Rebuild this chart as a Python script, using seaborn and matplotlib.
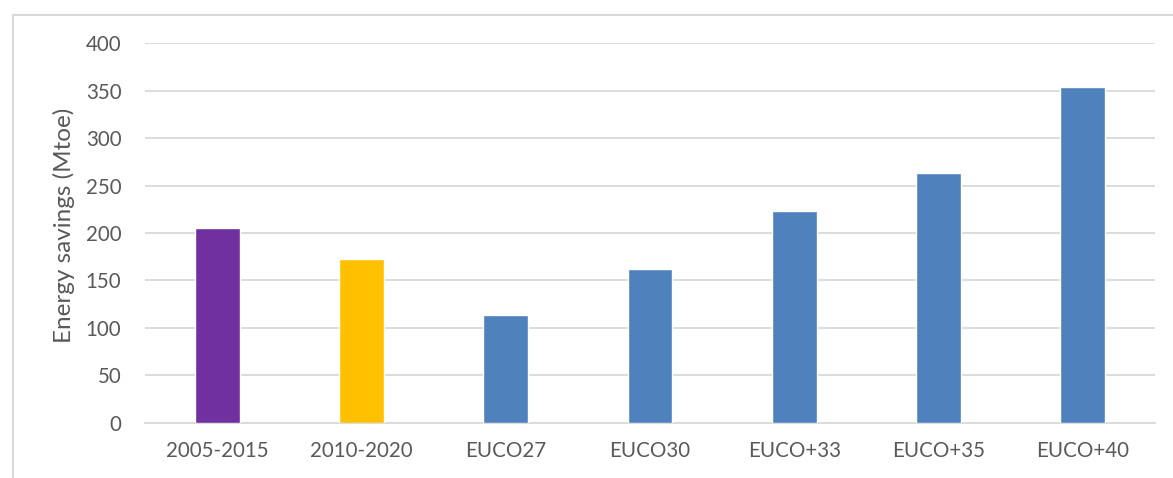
import matplotlib
matplotlib.use("Agg")
import matplotlib.pyplot as plt
from matplotlib.lines import Line2D
import seaborn as sns
import pandas as pd

# Energy savings by period / scenario (Mtoe)
categories = ["2005-2015", "2010-2020", "EUCO27", "EUCO30", "EUCO+33", "EUCO+35", "EUCO+40"]
savings = [205, 173, 114, 162, 223, 263, 354]
bar_colors = ["#7030A0", "#FFC000", "#4F81BD", "#4F81BD", "#4F81BD", "#4F81BD", "#4F81BD"]
y_ticks = [0, 50, 100, 150, 200, 250, 300, 350, 400]

sns.set_theme(style="white")
plt.rcParams["font.family"] = ["Lato", "DejaVu Sans"]

TEXT = "#595959"
GRID = "#D9D9D9"

W, H = 1173, 478
fig = plt.figure(figsize=(W / 100, H / 100), dpi=100)
fig.patch.set_facecolor("white")

left, right = 145 / W, 1155 / W
bottom, top = (H - 422.7) / H, (H - 43.3) / H
ax = fig.add_axes([left, bottom, right - left, top - bottom])

df = pd.DataFrame({"category": categories, "savings": savings})
sns.barplot(data=df, x="category", y="savings", hue="category",
            palette=bar_colors, width=0.31, legend=False, ax=ax,
            saturation=1, zorder=3)

ax.set_ylim(0, 400)
ax.set_xlim(-0.5, len(categories) - 0.5)
ax.set_yticks(y_ticks)
ax.yaxis.grid(True, color=GRID, linewidth=1.3)
ax.set_axisbelow(True)
for s in ["top", "right", "left"]:
    ax.spines[s].set_visible(False)
ax.spines["bottom"].set_color(GRID)
ax.spines["bottom"].set_linewidth(1.3)

ax.tick_params(axis="y", length=0, pad=17, labelsize=14.8, labelcolor=TEXT)
ax.tick_params(axis="x", length=0, pad=13, labelsize=14.8, labelcolor=TEXT)

ax.set_xlabel("")
ax.set_ylabel("Energy savings (Mtoe)", fontsize=17.5, color=TEXT)
ax.yaxis.set_label_coords(-0.069, 0.52)

# Chart-area frame (left and top edges)
fx = 12.5 / W
fy = (H - 15) / H
fig.add_artist(Line2D([fx, fx], [0, fy], transform=fig.transFigure, color=GRID, linewidth=1.5))
fig.add_artist(Line2D([fx, 1], [fy, fy], transform=fig.transFigure, color=GRID, linewidth=1.5))

fig.savefig("out.png", dpi=100, facecolor="white")
